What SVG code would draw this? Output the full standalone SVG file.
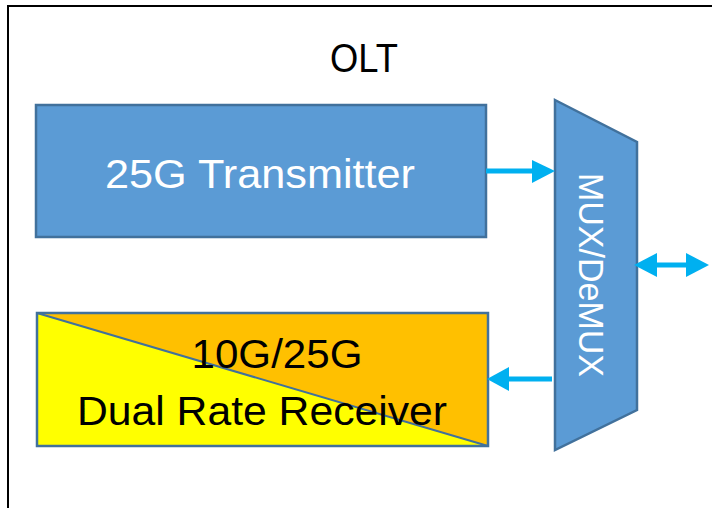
<svg xmlns="http://www.w3.org/2000/svg" width="712" height="508" viewBox="0 0 712 508">
<style>
.lbl{font-family:"Liberation Sans",Arial,sans-serif;}
.blue{fill:#5B9BD5;stroke:#41719C;stroke-width:2.5;}
.conn{stroke:#00B0F0;stroke-width:5;fill:none;}
.head{fill:#00B0F0;}
</style>
<rect width="712" height="508" fill="#ffffff"/>
<g id="olt">
<path d="M8,508 V6 H712" fill="none" stroke="#000" stroke-width="2"/>
<text class="lbl" x="364" y="72" font-size="41" text-anchor="middle" fill="#000" textLength="68" lengthAdjust="spacingAndGlyphs">OLT</text>
</g>
<g id="transmitter">
<rect class="blue" x="36" y="105" width="450" height="132"/>
<text class="lbl" x="260" y="188" font-size="40" text-anchor="middle" fill="#fff" textLength="310" lengthAdjust="spacingAndGlyphs">25G Transmitter</text>
</g>
<g id="receiver">
<polygon points="37,313 488,313 488,446" fill="#FFC000"/>
<polygon points="37,313 488,446 37,446" fill="#FFFF00"/>
<rect x="37" y="313" width="451" height="133" fill="none" stroke="#41719C" stroke-width="2.5"/>
<line x1="37" y1="313" x2="488" y2="446" stroke="#41719C" stroke-width="2"/>
<text class="lbl" x="277" y="368" font-size="41" text-anchor="middle" fill="#000" textLength="171" lengthAdjust="spacingAndGlyphs">10G/25G</text>
<text class="lbl" x="262" y="425" font-size="41" text-anchor="middle" fill="#000" textLength="370" lengthAdjust="spacingAndGlyphs">Dual Rate  Receiver</text>
</g>
<g id="mux">
<polygon class="blue" points="555,100 637,142 637,410 555,450"/>
<text class="lbl" transform="translate(579,275) rotate(90)" x="0" y="0" font-size="35" text-anchor="middle" fill="#fff" textLength="204" lengthAdjust="spacingAndGlyphs">MUX/DeMUX</text>
</g>
<g id="connectors">
<line class="conn" x1="486" y1="171" x2="533" y2="171"/>
<polygon class="head" points="532,160 555,171 532,183"/>
<line class="conn" x1="552" y1="379" x2="508" y2="379"/>
<polygon class="head" points="509,367 487,379 509,391"/>
<line class="conn" x1="655" y1="265" x2="688" y2="265"/>
<polygon class="head" points="657,253 634,265 657,277"/>
<polygon class="head" points="686,253 709,265 686,277"/>
</g>
</svg>
